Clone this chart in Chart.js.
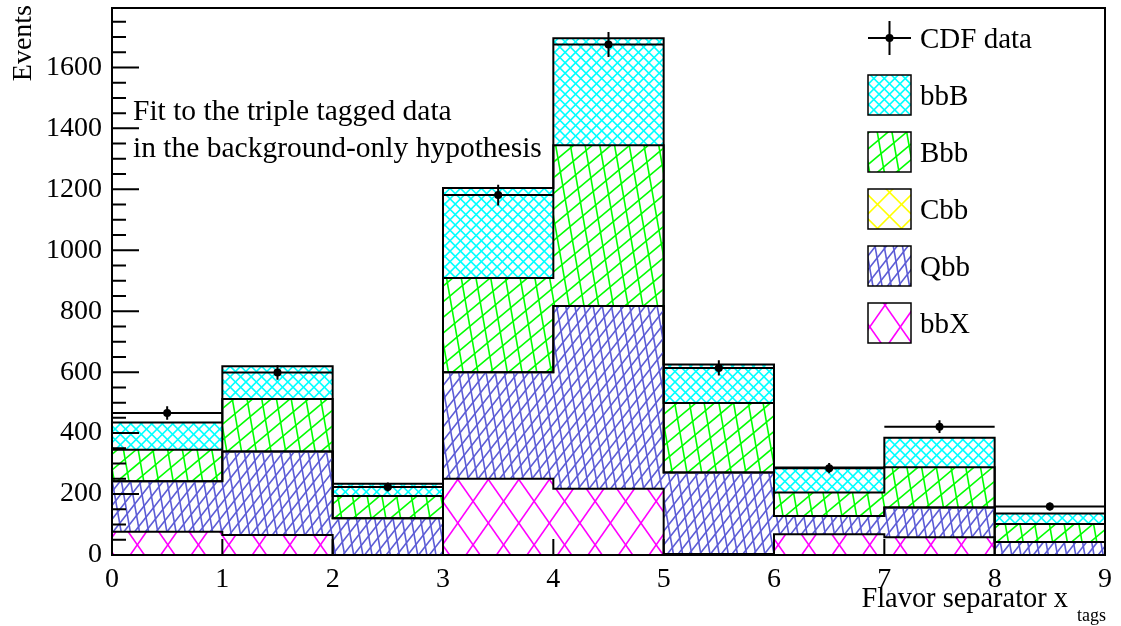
<!DOCTYPE html>
<html>
<head>
<meta charset="utf-8">
<script src="https://cdn.jsdelivr.net/npm/chart.js@4.4.1/dist/chart.umd.min.js"></script>
<style>
html,body{margin:0;padding:0;background:#fff;}
#c{display:block;}
</style>
</head>
<body>
<canvas id="c" width="1121" height="626"></canvas>
<script>
// ---- data ----
const binEdges = [0, 1, 2, 3, 4, 5, 6, 7, 8, 9];
const bbX = [76, 66, 0, 250, 217, 3, 68, 58, 0];
const Qbb = [166, 274, 121, 350, 600, 268, 60, 98, 43];
const Cbb = [0, 0, 0, 0, 0, 0, 0, 0, 0];
const Bbb = [103, 172, 73, 309, 528, 228, 77, 132, 59];
const bbB = [90, 107, 40, 295, 351, 126, 82, 97, 34];
const cdfData = [466, 599, 223, 1181, 1675, 614, 285, 421, 159];
const cdfErr = [22, 24, 15, 34, 41, 25, 17, 21, 13];
const yTickValues = [0, 200, 400, 600, 800, 1000, 1200, 1400, 1600];
const xTickValues = [0, 1, 2, 3, 4, 5, 6, 7, 8, 9];
const yMinorStep = 50;
const yMax = 1795;

const FONT = '"Liberation Serif", "Times New Roman", serif';

const canvas = document.getElementById('c');
const mainCtx = canvas.getContext('2d');

function hatch(color, families, lw) {
  const t = document.createElement('canvas');
  t.width = 1121; t.height = 626;
  const g = t.getContext('2d');
  g.strokeStyle = color;
  g.lineWidth = lw;
  for (const [ang, d] of families) {
    const a = ang * Math.PI / 180;
    const ux = Math.cos(a), uy = -Math.sin(a);
    const nx = -uy, ny = ux;
    const N = Math.ceil(1500 / d);
    const L = 3000;
    for (let k = -N; k <= N; k++) {
      const px = nx * k * d, py = ny * k * d;
      g.beginPath();
      g.moveTo(px - ux * L, py - uy * L);
      g.lineTo(px + ux * L, py + uy * L);
      g.stroke();
    }
  }
  return mainCtx.createPattern(t, 'no-repeat');
}

const patX = hatch('#ff00ff', [[55, 25], [125, 25]], 1.6);
const patQ = hatch('#5c5cd6', [[52, 8.5], [100, 9]], 1.6);
const patC = hatch('#ffff00', [[45, 17], [135, 17]], 1.6);
const patB = hatch('#00ff00', [[40, 12], [100, 14.5]], 1.6);
const patBB = hatch('#00ffff', [[45, 7.4], [135, 7.4]], 1.6);

function histPoints(vals) {
  const pts = vals.map((v, i) => ({ x: binEdges[i], y: v }));
  pts.push({ x: binEdges[binEdges.length - 1], y: vals[vals.length - 1] });
  return pts;
}
function band(label, vals, pat, fill) {
  return {
    label, data: histPoints(vals), backgroundColor: pat, borderColor: '#000',
    borderWidth: 2, pointRadius: 0, stepped: 'before', fill, tension: 0,
    stack: 'mc', borderJoinStyle: 'miter'
  };
}
const centers = cdfData.map((v, i) => (binEdges[i] + binEdges[i + 1]) / 2);

const rootPlugin = {
  id: 'rootStyle',
  afterDatasetsDraw(chart) {
    const { ctx, chartArea: a, scales: { x, y } } = chart;
    ctx.save();
    ctx.strokeStyle = '#000';
    ctx.fillStyle = '#000';
    // error bars
    ctx.lineWidth = 2;
    cdfData.forEach((v, i) => {
      const py = y.getPixelForValue(v);
      const x0 = x.getPixelForValue(binEdges[i]);
      const x1 = x.getPixelForValue(binEdges[i + 1]);
      const pc = x.getPixelForValue(centers[i]);
      ctx.beginPath();
      ctx.moveTo(x0, py); ctx.lineTo(x1, py);
      ctx.moveTo(pc, y.getPixelForValue(v - cdfErr[i]));
      ctx.lineTo(pc, y.getPixelForValue(v + cdfErr[i]));
      ctx.stroke();
    });
    // frame
    ctx.lineWidth = 2;
    ctx.strokeRect(a.left, a.top, a.right - a.left, a.bottom - a.top);
    // y ticks (inside)
    ctx.beginPath();
    for (let v = 0; v <= yMax; v += yMinorStep) {
      const py = y.getPixelForValue(v);
      const len = yTickValues.includes(v) ? 27 : 14;
      ctx.moveTo(a.left, py); ctx.lineTo(a.left + len, py);
    }
    // x ticks
    xTickValues.forEach(e => {
      const px = x.getPixelForValue(e);
      ctx.moveTo(px, a.bottom); ctx.lineTo(px, a.bottom - 16);
    });
    ctx.stroke();

    // texts
    ctx.font = '29.5px ' + FONT;
    ctx.textBaseline = 'alphabetic';
    ctx.textAlign = 'left';
    ctx.fillText('Fit to the triple tagged data', 133, 120);
    ctx.fillText('in the background-only hypothesis', 133, 157);

    // x title with subscript
    ctx.font = '28.4px ' + FONT;
    ctx.textAlign = 'right';
    ctx.fillText('Flavor separator x', 1068, 607);
    ctx.font = '18px ' + FONT;
    ctx.textAlign = 'left';
    ctx.fillText('tags', 1077, 621);

    // y title
    ctx.save();
    ctx.font = '28px ' + FONT;
    ctx.translate(31, 5);
    ctx.rotate(-Math.PI / 2);
    ctx.textAlign = 'right';
    ctx.fillText('Events', 0, 0);
    ctx.restore();

    // legend
    const ds = chart.data.datasets;
    const items = [ds[5], ds[4], ds[3], ds[2], ds[1], ds[0]];
    const bx = 868, bw = 43, bh = 40, top0 = 38, step = 57;
    ctx.font = '29px ' + FONT;
    ctx.textAlign = 'left';
    items.forEach((d, i) => {
      const cy = top0 + i * step;
      if (i === 0) {
        ctx.lineWidth = 2;
        ctx.beginPath();
        ctx.moveTo(bx, cy); ctx.lineTo(bx + bw, cy);
        ctx.moveTo(bx + bw / 2, cy - 17); ctx.lineTo(bx + bw / 2, cy + 17);
        ctx.stroke();
        ctx.beginPath();
        ctx.arc(bx + bw / 2, cy, 4, 0, Math.PI * 2);
        ctx.fill();
      } else {
        ctx.fillStyle = '#fff';
        ctx.fillRect(bx, cy - bh / 2, bw, bh);
        ctx.fillStyle = d.backgroundColor;
        ctx.fillRect(bx, cy - bh / 2, bw, bh);
        ctx.lineWidth = 1.5;
        ctx.strokeRect(bx, cy - bh / 2, bw, bh);
        ctx.fillStyle = '#000';
      }
      ctx.fillText(d.label, 920, cy + 10);
    });
    ctx.restore();
  }
};

new Chart(mainCtx, {
  type: 'line',
  data: {
    datasets: [
      band('bbX', bbX, patX, 'origin'),
      band('Qbb', Qbb, patQ, '-1'),
      band('Cbb', Cbb, patC, '-1'),
      band('Bbb', Bbb, patB, '-1'),
      band('bbB', bbB, patBB, '-1'),
      {
        type: 'scatter', label: 'CDF data',
        data: centers.map((c, i) => ({ x: c, y: cdfData[i] })),
        pointRadius: 4, pointBackgroundColor: '#000', pointBorderWidth: 0,
        showLine: false, stack: 'data', order: -1
      }
    ]
  },
  options: {
    responsive: false,
    animation: false,
    devicePixelRatio: 1,
    layout: { padding: { left: 0, top: 8, right: 16, bottom: 0 } },
    plugins: { legend: { display: false }, tooltip: { enabled: false } },
    scales: {
      x: {
        type: 'linear', min: 0, max: 9, offset: false,
        ticks: { font: { family: FONT, size: 28 }, color: '#000', padding: 8, maxRotation: 0, autoSkip: false, callback: v => String(v) },
        afterBuildTicks(s) { s.ticks = xTickValues.map(v => ({ value: v })); },
        grid: { display: false, drawTicks: false },
        border: { display: false },
        afterFit(s) { s.height = 71; s.paddingLeft = 0; s.paddingRight = 0; }
      },
      y: {
        type: 'linear', stacked: true, min: 0, max: yMax,
        ticks: { font: { family: FONT, size: 28 }, color: '#000', padding: 10, autoSkip: false, callback: v => String(v) },
        afterBuildTicks(s) { s.ticks = yTickValues.map(v => ({ value: v })); },
        grid: { display: false, drawTicks: false },
        border: { display: false },
        afterFit(s) { s.width = 112; s.paddingTop = 0; s.paddingBottom = 0; }
      }
    }
  },
  plugins: [rootPlugin]
});
</script>
</body>
</html>
